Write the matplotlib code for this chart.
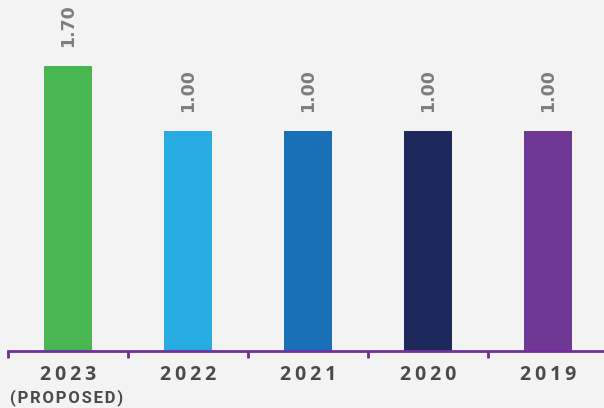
import matplotlib.pyplot as plt
import numpy as np

years = ["2023", "2022", "2021", "2020", "2019"]
rates = [1.70, 1.00, 1.00, 1.00, 1.00]
colors = ["#49b750", "#28abe2", "#1a70b8", "#1f285a", "#6e3894"]
note = "(PROPOSED)"

# value axis does not start at zero: bars rise from this baseline
base = -1.37
top = 2.41


def spaced(s, gap="\u2009"):
    return gap.join(s)


fig = plt.figure(figsize=(6.04, 4.08), dpi=100)
fig.patch.set_facecolor("#f3f3f3")
ax = fig.add_axes([8 / 604, 57 / 408, 600 / 604, 351 / 408])
ax.set_facecolor("none")

x = np.arange(len(years))
ax.bar(x, np.array(rates) - base, bottom=base, width=0.4, color=colors)

for xi, v in zip(x, rates):
    ax.annotate(f"{v:.2f}", (xi, v), xytext=(0, 13.5), textcoords="offset points",
                rotation=90, ha="center", va="bottom", fontsize=12.5,
                fontweight="bold", color="#7d7d7d", family="DejaVu Sans")

ax.set_xlim(-0.5, len(years) - 0.5)
ax.set_ylim(base, top)

for side in ["top", "right", "left"]:
    ax.spines[side].set_visible(False)
ax.spines["bottom"].set_color("#7030a0")
ax.spines["bottom"].set_linewidth(2)
ax.spines["bottom"].set_clip_on(False)

ax.set_yticks([])
ax.set_xticks(x)
ax.set_xticklabels([spaced(y) for y in years], fontsize=14, fontweight="bold",
                   color="#4a4a4a", family=["Open Sans", "DejaVu Sans"])
ax.tick_params(axis="x", which="major", length=0, pad=10)
ax.set_xticks(np.arange(-0.5, len(years)), minor=True)
ax.tick_params(axis="x", which="minor", length=5, width=2, color="#7030a0")

ax.annotate(spaced(note, "\u200a"), xy=(0, 0), xycoords=("data", "axes fraction"),
            xytext=(-1, -27.5), textcoords="offset points", ha="center", va="top",
            fontsize=12, fontweight="bold", color="#4a4a4a",
            family=["Roboto", "DejaVu Sans"], annotation_clip=False)

fig.savefig("out.png", dpi=100, facecolor=fig.get_facecolor())
